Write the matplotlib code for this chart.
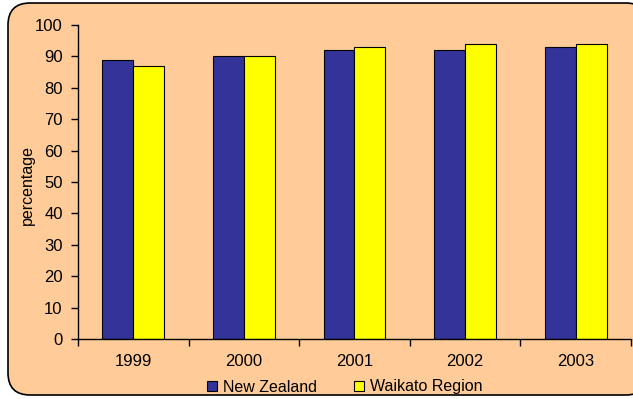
import matplotlib.pyplot as plt
import numpy as np
from matplotlib.patches import FancyBboxPatch, Patch

plt.rcParams['font.family'] = ['Liberation Sans', 'DejaVu Sans']

years = ['1999', '2000', '2001', '2002', '2003']
new_zealand = [89, 90, 92, 92, 93]
waikato = [87, 90, 93, 94, 94]

bg = '#FFCC99'
nz_color = '#333399'
wk_color = '#FFFF00'

W, H = 633, 399
fig = plt.figure(figsize=(W / 100, H / 100), dpi=100)
fig.patch.set_facecolor('white')

# rounded chart frame
frame = FancyBboxPatch((8 / W, 4 / H), 640 / W, 392 / H,
                       boxstyle='round,pad=0,rounding_size=0.035',
                       transform=fig.transFigure, facecolor=bg,
                       edgecolor='black', linewidth=1.2, zorder=-5,
                       mutation_aspect=W / H)
fig.patches.append(frame)

ax = fig.add_axes([78 / W, 60 / H, 553 / W, 314 / H])
ax.set_facecolor('none')
ax.set_zorder(2)

x = np.arange(len(years))
bw = 0.28
ax.bar(x - bw / 2, new_zealand, bw, color=nz_color, edgecolor='black', linewidth=0.8)
ax.bar(x + bw / 2, waikato, bw, color=wk_color, edgecolor='black', linewidth=0.8)

ax.set_xlim(-0.5, len(years) - 0.5)
ax.set_ylim(0, 100)
ax.set_yticks(range(0, 101, 10))

# category boundaries get the tick marks, centres get the labels
ax.set_xticks(np.arange(-0.5, len(years), 1.0))
ax.set_xticklabels([])
ax.set_xticks(x, minor=True)
ax.set_xticklabels(years, minor=True)
ax.tick_params(axis='x', which='minor', length=0, pad=11, labelsize=12)
ax.tick_params(axis='x', which='major', length=5, width=1)
ax.tick_params(axis='y', length=5, width=1, labelsize=12, pad=6)

for side in ('top', 'right'):
    ax.spines[side].set_visible(False)
for side in ('left', 'bottom'):
    ax.spines[side].set_linewidth(1)

ax.set_ylabel('percentage', fontsize=11.5)
ax.yaxis.set_label_coords(-0.078, 0.49)

handles = [Patch(facecolor=nz_color, edgecolor='black', linewidth=0.8),
           Patch(facecolor=wk_color, edgecolor='black', linewidth=0.8)]
fig.legend(handles, ['New Zealand', 'Waikato Region'], loc='center',
           bbox_to_anchor=(345 / W, 12 / H), ncol=2, frameon=False,
           fontsize=11.5, handlelength=0.6, handleheight=0.6,
           handletextpad=0.4, columnspacing=2.3)

fig.savefig('out.png', dpi=100, facecolor=fig.get_facecolor())
